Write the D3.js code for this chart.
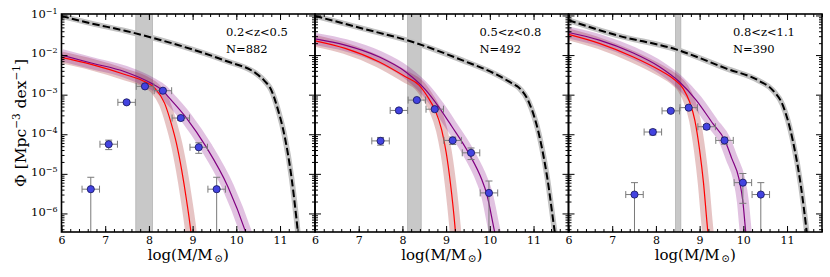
<!DOCTYPE html>
<html>
<head>
<meta charset="utf-8">
<script src="https://cdn.jsdelivr.net/npm/d3@7"></script>
<style>
  body { margin: 0; background: #fff; }
  text { font-family: "DejaVu Serif", serif; fill: #000; }
</style>
</head>
<body>
<div id="chart"></div>
<script>
// panel labels
var zLabels = ["0.2<z<0.5", "0.5<z<0.8", "0.8<z<1.1"];
var nLabels = ["N=882", "N=492", "N=390"];
var xTicks = [6, 7, 8, 9, 10, 11];
var yTickExp = [-6, -5, -4, -3, -2, -1];

// mass completeness limits (grey vertical band)
var limitLo = [7.70, 8.12, 8.45];
var limitHi = [8.08, 8.43, 8.57];
var massErr = 0.2;

// binned points
var mass1 = [6.67, 7.08, 7.49, 7.91, 8.32, 8.73, 9.14, 9.55];
var phi1  = [4.1e-6, 5.6e-5, 6.4e-4, 1.62e-3, 1.26e-3, 2.57e-4, 4.7e-5, 4.1e-6];
var err1  = [4.1e-6, 1.5e-5, 5.1e-5, 8.2e-5, 7.2e-5, 3.3e-5, 1.4e-5, 4.1e-6];
var mass2 = [7.50, 7.92, 8.33, 8.74, 9.15, 9.57, 9.98];
var phi2  = [6.8e-5, 4.0e-4, 7.3e-4, 4.3e-4, 7.0e-5, 3.4e-5, 3.3e-6];
var err2  = [1.5e-5, 3.6e-5, 4.9e-5, 3.8e-5, 1.5e-5, 1.1e-5, 3.3e-6];
var mass3 = [7.51, 7.93, 8.34, 8.75, 9.16, 9.57, 9.99, 10.40];
var phi3  = [3.0e-6, 1.14e-4, 3.9e-4, 4.7e-4, 1.55e-4, 7.0e-5, 6.0e-6, 3.0e-6];
var err3  = [3.0e-6, 1.8e-5, 3.4e-5, 3.7e-5, 2.1e-5, 1.4e-5, 4.2e-6, 3.0e-6];

// total mass function (black dashed), log10 phi
var totMass1 = [6.0, 6.68, 7.45, 8.22, 8.99, 9.75, 10.50, 10.65, 10.80, 10.955, 11.107, 11.26, 11.37, 11.42];
var totLog1  = [-1.015, -1.20, -1.385, -1.605, -1.857, -2.144, -2.505, -2.657, -2.884, -3.39, -4.06, -5.07, -6.08, -6.6];
var totMass2 = [6.0, 7.08, 8.22, 9.36, 10.20, 10.51, 10.66, 10.89, 11.12, 11.31, 11.485, 11.51];
var totLog2  = [-1.01, -1.327, -1.664, -2.127, -2.52, -2.715, -2.816, -3.18, -3.98, -5.07, -6.46, -6.65];
var totMass3 = [6.0, 7.09, 8.46, 9.60, 10.37, 10.67, 10.90, 11.13, 11.32, 11.45, 11.47];
var totLog3  = [-1.12, -1.495, -1.857, -2.336, -2.657, -2.884, -3.26, -4.15, -5.33, -6.46, -6.65];

// purple fit
var fitMass1 = [6.0, 6.68, 7.45, 8.06, 8.32, 8.44, 8.86, 9.31, 9.81, 10.21, 10.24];
var fitLog1  = [-2.0, -2.2, -2.42, -2.715, -2.90, -3.05, -3.59, -4.32, -5.33, -6.46, -6.56];
var fitMass2 = [6.0, 6.69, 7.46, 8.07, 8.52, 8.83, 9.135, 9.52, 9.82, 9.92, 10.11, 10.13];
var fitLog2  = [-1.59, -1.748, -2.043, -2.42, -2.866, -3.306, -3.811, -4.483, -5.157, -5.47, -6.46, -6.56];
var fitMass3 = [6.0, 6.705, 7.47, 8.08, 8.535, 8.92, 9.30, 9.574, 9.735, 9.90, 9.99, 10.055, 10.07];
var fitLog3  = [-1.43, -1.622, -1.942, -2.295, -2.675, -3.137, -3.725, -4.147, -4.61, -5.12, -5.70, -6.46, -6.6];

// red fit
var schMass1 = [6.0, 6.68, 7.45, 7.91, 8.14, 8.36, 8.51, 8.63, 8.75, 8.86, 8.96, 8.97];
var schLog1  = [-2.06, -2.235, -2.49, -2.675, -2.84, -3.22, -3.725, -4.23, -4.905, -5.66, -6.46, -6.56];
var schMass2 = [6.0, 6.69, 7.46, 8.07, 8.38, 8.60, 8.74, 8.90, 9.00, 9.10, 9.20, 9.22];
var schLog2  = [-1.64, -1.831, -2.169, -2.548, -2.758, -3.094, -3.371, -3.894, -4.45, -5.25, -6.30, -6.56];
var schMass3 = [6.0, 6.705, 7.47, 8.08, 8.39, 8.62, 8.77, 8.89, 9.00, 9.09, 9.17, 9.20];
var schLog3  = [-1.478, -1.705, -2.043, -2.379, -2.59, -2.84, -3.18, -3.64, -4.40, -5.24, -6.25, -6.6];

var panels = [
  {mass: mass1, phi: phi1, err: err1, tot: d3.zip(totMass1, totLog1), fit: d3.zip(fitMass1, fitLog1), sch: d3.zip(schMass1, schLog1)},
  {mass: mass2, phi: phi2, err: err2, tot: d3.zip(totMass2, totLog2), fit: d3.zip(fitMass2, fitLog2), sch: d3.zip(schMass2, schLog2)},
  {mass: mass3, phi: phi3, err: err3, tot: d3.zip(totMass3, totLog3), fit: d3.zip(fitMass3, fitLog3), sch: d3.zip(schMass3, schLog3)}
];

var width = 830, height = 277,
    top0 = 14, plotH = 218,
    left0 = 61.5, panelW = 253.5;

var svg = d3.select("#chart").append("svg")
    .attr("width", width)
    .attr("height", height);

var x = d3.scaleLinear().domain([6, 11.8]).range([0, panelW]);
var y = d3.scaleLog().domain([3.4e-7, 0.109]).range([plotH, 0]);

var xMinor = d3.range(30, 60).map(function(k) { return k / 5; });
var yMinor = [];
[-7, -6, -5, -4, -3, -2, -1].forEach(function(e) {
  for (var m = 2; m < 10; m++) {
    var v = m * Math.pow(10, e);
    if (v > 3.4e-7 && v < 0.109) yMinor.push(v);
  }
});

var line = d3.line()
    .x(function(d) { return x(d[0]); })
    .y(function(d) { return y(Math.pow(10, d[1])); })
    .curve(d3.curveMonotoneX);

svg.append("defs").append("clipPath").attr("id", "clip")
  .append("rect").attr("width", panelW).attr("height", plotH);

panels.forEach(function(p, i) {
  var g = svg.append("g")
      .attr("transform", "translate(" + (left0 + i * panelW) + "," + top0 + ")");

  var inner = g.append("g").attr("clip-path", "url(#clip)");

  // completeness band
  inner.append("rect")
    .attr("x", x(limitLo[i]))
    .attr("width", x(limitHi[i]) - x(limitLo[i]))
    .attr("y", 0)
    .attr("height", plotH)
    .style("fill", "#c8c8c8")
    .style("stroke", "#b2b2b2")
    .style("stroke-width", 0.8);

  // uncertainty bands
  inner.append("path").attr("d", line(p.tot))
    .style("fill", "none").style("stroke", "#c2c2c2").style("stroke-width", 5.5);
  inner.append("path").attr("d", line(p.sch))
    .style("fill", "none").style("stroke", "#a52a2a").style("stroke-opacity", 0.28).style("stroke-width", 11.5);
  inner.append("path").attr("d", line(p.fit))
    .style("fill", "none").style("stroke", "#800080").style("stroke-opacity", 0.24).style("stroke-width", 12);

  inner.append("path").attr("d", line(p.sch))
    .style("fill", "none").style("stroke", "#ff0000").style("stroke-width", 1.2);
  inner.append("path").attr("d", line(p.fit))
    .style("fill", "none").style("stroke", "#800080").style("stroke-width", 1.2);
  inner.append("path").attr("d", line(p.tot))
    .style("fill", "none").style("stroke", "#000").style("stroke-width", 2)
    .style("stroke-dasharray", "7.4,3.2");

  // error bars
  var pts = d3.zip(p.mass, p.phi, p.err);
  var eb = inner.append("g").style("stroke", "#7a7a7a").style("stroke-width", 1);
  pts.forEach(function(d) {
    var cx = x(d[0]), cy = y(d[1]);
    var yHi = y(d[1] + d[2]);
    var lo = d[1] - d[2];
    var yLo = lo > 1e-9 ? y(lo) : plotH + 10;
    eb.append("line").attr("x1", cx).attr("x2", cx).attr("y1", yHi).attr("y2", yLo);
    eb.append("line").attr("x1", cx - 3.5).attr("x2", cx + 3.5).attr("y1", yHi).attr("y2", yHi);
    eb.append("line").attr("x1", cx - 3.5).attr("x2", cx + 3.5).attr("y1", yLo).attr("y2", yLo);
    var xl = x(d[0] - massErr), xr = x(d[0] + massErr);
    eb.append("line").attr("x1", xl).attr("x2", xr).attr("y1", cy).attr("y2", cy);
    eb.append("line").attr("x1", xl).attr("x2", xl).attr("y1", cy - 3.5).attr("y2", cy + 3.5);
    eb.append("line").attr("x1", xr).attr("x2", xr).attr("y1", cy - 3.5).attr("y2", cy + 3.5);
  });

  inner.selectAll(".pt").data(pts).enter().append("circle")
    .attr("class", "pt")
    .attr("cx", function(d) { return x(d[0]); })
    .attr("cy", function(d) { return y(d[1]); })
    .attr("r", 3.6)
    .style("fill", "#4343e0")
    .style("stroke", "#15155a")
    .style("stroke-width", 0.8);

  // labels in the corner
  g.append("text").attr("x", 164.5).attr("y", 22)
    .style("font-size", "11.5px").text(zLabels[i]);
  g.append("text").attr("x", 164.5).attr("y", 39.3)
    .style("font-size", "11.5px").text(nLabels[i]);

  // axes, ticks inside
  function styleAxis(sel) {
    sel.select(".domain").remove();
    sel.selectAll(".tick line").style("stroke", "#000").style("stroke-width", 1);
    sel.selectAll(".tick text").style("font-family", "DejaVu Serif").style("font-size", "11px").style("fill", "#000");
  }
  g.append("g").attr("transform", "translate(0," + plotH + ")")
    .call(d3.axisBottom(x).tickValues(xTicks).tickSize(-6).tickPadding(4).tickFormat(d3.format("d")))
    .call(styleAxis);
  g.append("g").attr("transform", "translate(0," + plotH + ")")
    .call(d3.axisBottom(x).tickValues(xMinor).tickSize(-3).tickFormat(""))
    .call(styleAxis);
  g.append("g")
    .call(d3.axisTop(x).tickValues(xTicks).tickSize(-6).tickFormat(""))
    .call(styleAxis);
  g.append("g")
    .call(d3.axisTop(x).tickValues(xMinor).tickSize(-3).tickFormat(""))
    .call(styleAxis);
  g.append("g")
    .call(d3.axisLeft(y).tickValues(yTickExp.map(function(e) { return Math.pow(10, e); })).tickSize(-6).tickFormat(""))
    .call(styleAxis);
  g.append("g")
    .call(d3.axisLeft(y).tickValues(yMinor).tickSize(-3).tickFormat(""))
    .call(styleAxis);
  g.append("g").attr("transform", "translate(" + panelW + ",0)")
    .call(d3.axisRight(y).tickValues(yTickExp.map(function(e) { return Math.pow(10, e); })).tickSize(-6).tickFormat(""))
    .call(styleAxis);
  g.append("g").attr("transform", "translate(" + panelW + ",0)")
    .call(d3.axisRight(y).tickValues(yMinor).tickSize(-3).tickFormat(""))
    .call(styleAxis);

  if (i === 0) {
    yTickExp.forEach(function(e) {
      var t = g.append("text")
        .attr("x", -4)
        .attr("y", y(Math.pow(10, e)) + 2.3)
        .attr("text-anchor", "end")
        .style("font-size", "11.5px");
      t.append("tspan").text("10");
      t.append("tspan").attr("dy", -4).style("font-size", "8px").text("\u2212" + Math.abs(e));
    });
  }

  // x label
  var xl = g.append("text")
    .attr("x", panelW / 2)
    .attr("y", plotH + 27.5)
    .attr("text-anchor", "middle")
    .style("font-size", "15px");
  xl.append("tspan").text("log(M/M");
  xl.append("tspan").attr("dy", 2).attr("dx", 1.5).style("font-size", "10.5px").text("\u2299");
  xl.append("tspan").attr("dy", -2).text(")");

  g.append("rect")
    .attr("width", panelW).attr("height", plotH)
    .style("fill", "none").style("stroke", "#000").style("stroke-width", 1.6);
});

// y label
var yl = svg.append("text")
  .attr("transform", "translate(26," + (top0 + plotH / 2) + ") rotate(-90)")
  .attr("text-anchor", "middle")
  .style("font-size", "15.5px");
yl.append("tspan").text("\u03a6 [Mpc");
yl.append("tspan").attr("dy", -6).style("font-size", "10.5px").text("\u22123");
yl.append("tspan").attr("dy", 6).text(" dex");
yl.append("tspan").attr("dy", -6).style("font-size", "10.5px").text("\u22121");
yl.append("tspan").attr("dy", 6).text("]");
</script>
</body>
</html>
